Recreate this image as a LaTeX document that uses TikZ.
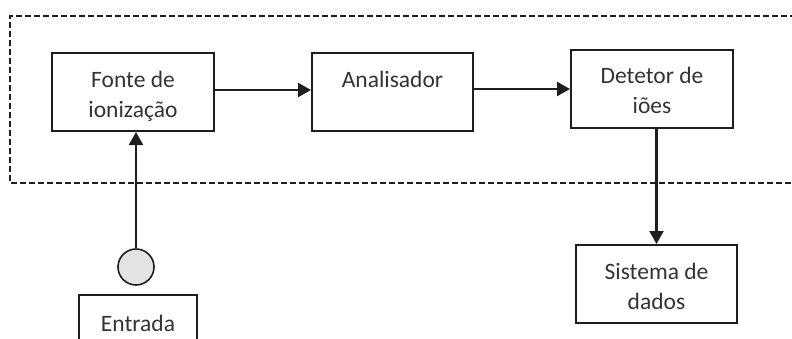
\documentclass[tikz,border=0pt]{standalone}
\usepackage{fontspec}
\setmainfont{Carlito}
\usetikzlibrary{arrows.meta}
\definecolor{ink}{HTML}{1E1E1E}
\definecolor{txt}{HTML}{333333}
\definecolor{dotfill}{HTML}{E3E3E3}
% box text: first baseline 34pt below the top edge, lines 30pt apart
\newcommand{\unittext}[2]{\parbox[c][78pt][t]{#1}{\centering\fontsize{23.5pt}{30pt}\selectfont\rule{0pt}{34pt}#2}}
\begin{document}
\begin{tikzpicture}[x=1pt,y=-1pt,
  unit/.style={draw=ink, line width=2pt, inner sep=0pt, text=txt, anchor=center},
  flow/.style={draw=ink, line width=2.3pt, -{Triangle[length=13pt,width=14pt]}},
  frame/.style={draw=ink, line width=2pt, dash pattern=on 6pt off 3pt}]
\useasboundingbox (0,0) rectangle (792,338);
\begin{scope}
\clip (0,0) rectangle (792,338);
% instrument enclosure, open to the right
\draw[frame] (800,183) -- (10,183) -- (10,16) -- (800,16);
% main chain
\node[unit] (fonte) at (133,92) {\unittext{162pt}{Fonte de\\ionização}};
\node[unit] (anal) at (392.5,92) {\unittext{161pt}{Analisador}};
\node[unit] (det) at (652,88.5) {\unittext{162pt}{Detetor de\\iões}};
\node[unit] (sist) at (656.5,284) {\unittext{161pt}{Sistema de\\dados}};
\node[unit] (entr) at (138,334) {\unittext{118pt}{\raisebox{-2pt}{Entrada}}};
% sample inlet
\node[circle, draw=ink, line width=1.6pt, fill=dotfill, minimum size=36pt, inner sep=0pt] (inlet) at (136,267) {};
% connectors
\draw[flow] ([yshift=2pt]fonte.east) -- ([yshift=2pt]anal.west);
\draw[flow] ([yshift=3pt]anal.east) -- ([yshift=-0.5pt]det.west);
\draw[flow] (sist.north |- det.south) -- (sist.north);
\draw[flow] (inlet.north) -- (inlet.north |- fonte.south);
\end{scope}
\end{tikzpicture}
\end{document}
